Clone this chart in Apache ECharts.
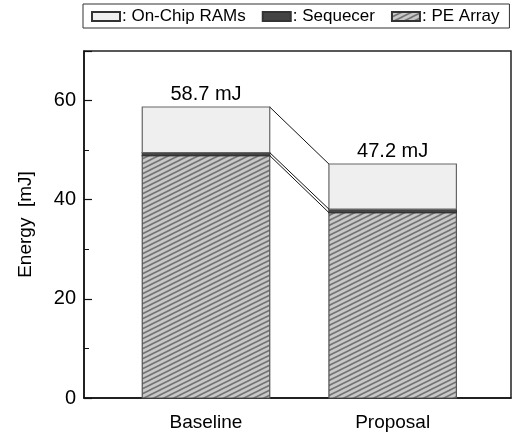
<!DOCTYPE html>
<html>
<head>
<meta charset="utf-8">
<script src="https://cdn.jsdelivr.net/npm/echarts@6/dist/echarts.min.js"></script>
<style>
    html, body { margin: 0; padding: 0; background: #fff; }
    #chart { width: 514px; height: 434px; }
</style>
</head>
<body>
<div id="chart"></div>
<script>
const categories = ['Baseline', 'Proposal'];
const xPos = [2, 5.06];
const peArray = [48.9, 37.4];
const sequencer = [0.6, 0.7];
const totals = [58.7, 47.2];
const seriesNames = ['On-Chip RAMs', 'Sequecer', 'PE Array'];

const HALF = 1.045;
const FONT = '"Liberation Sans", Arial, Helvetica, sans-serif';

// hatch for PE Array
const makeHatch = () => {
    const c = document.createElement('canvas');
    c.width = 10;
    c.height = 5;
    const ctx = c.getContext('2d');
    ctx.fillStyle = '#c8c8c8';
    ctx.fillRect(0, 0, 10, 5);
    ctx.strokeStyle = '#737373';
    ctx.lineWidth = 1.6;
    for (let k = -1; k <= 1; k++) {
        ctx.beginPath();
        ctx.moveTo(-2, 6 + k * 5);
        ctx.lineTo(12, -1 + k * 5);
        ctx.stroke();
    }
    return c;
};
const hatch = { image: makeHatch(), repeat: 'repeat' };

const peTop = peArray.map((v) => v);
const seqTop = peArray.map((v, i) => v + sequencer[i]);

const segment = (name, bases, tops, fill, stroke, withLabel) => ({
    type: 'custom',
    name: name,
    silent: true,
    itemStyle: { color: fill, borderColor: '#333', borderWidth: 1 },
    data: categories.map((c, i) => [xPos[i], bases[i], tops[i]]),
    renderItem: (params, api) => {
        const x = api.value(0);
        const p0 = api.coord([x - HALF, api.value(1)]);
        const p1 = api.coord([x + HALF, api.value(2)]);
        const children = [{
            type: 'rect',
            shape: { x: p0[0], y: p1[1], width: p1[0] - p0[0], height: p0[1] - p1[1] },
            style: { fill: fill, stroke: stroke, lineWidth: 1.2 }
        }];
        if (withLabel) {
            children.push({
                type: 'text',
                x: (p0[0] + p1[0]) / 2,
                y: p1[1] - 3,
                style: {
                    text: totals[params.dataIndex].toFixed(1) + ' mJ',
                    font: '20px ' + FONT,
                    fill: '#000',
                    align: 'center',
                    verticalAlign: 'bottom'
                }
            });
        }
        return { type: 'group', children: children };
    }
});

const connector = (from, to) => ({
    type: 'line',
    silent: true,
    symbol: 'none',
    lineStyle: { color: '#111', width: 1 },
    data: [[xPos[0] + HALF, from], [xPos[1] - HALF, to]],
    z: 3
});

const chart = echarts.init(document.getElementById('chart'));
chart.setOption({
    animation: false,
    textStyle: { fontFamily: FONT },
    legend: {
        left: 83,
        top: 4,
        data: seriesNames,
        orient: 'horizontal',
        padding: [4, 10, 3, 8],
        itemGap: 16,
        itemWidth: 28,
        itemHeight: 9,
        borderColor: '#333',
        borderWidth: 1,
        borderRadius: 0,
        icon: 'rect',
        selectedMode: false,
        formatter: ': {name}',
        textStyle: { fontSize: 17, color: '#000', fontFamily: FONT, padding: [0, 0, 0, -3] }
    },
    grid: {
        left: 84,
        right: 3,
        top: 51,
        bottom: 36,
        show: true,
        borderColor: '#222',
        borderWidth: 1.5,
        backgroundColor: 'transparent'
    },
    xAxis: {
        type: 'value',
        min: 0,
        max: 7,
        splitLine: { show: false },
        axisTick: { show: false },
        axisLine: { show: true, lineStyle: { color: '#111', width: 1.5 } },
        axisLabel: {
            customValues: xPos,
            formatter: (v) => {
                const i = xPos.indexOf(v);
                return i >= 0 ? categories[i] : '';
            },
            fontSize: 19,
            color: '#000',
            margin: 15
        }
    },
    yAxis: {
        type: 'value',
        min: 0,
        max: 70,
        interval: 20,
        name: 'Energy  [mJ]',
        nameLocation: 'middle',
        nameGap: 49,
        nameTextStyle: { fontSize: 19, color: '#000' },
        splitLine: { show: false },
        axisLine: { show: true, lineStyle: { color: '#111', width: 1.5 } },
        axisTick: { show: true, inside: true, length: 8, lineStyle: { color: '#111', width: 1.2 } },
        minorTick: { show: true, splitNumber: 2, length: 5, lineStyle: { color: '#111', width: 1 } },
        axisLabel: { showMaxLabel: false, fontSize: 20, color: '#000', margin: 8 }
    },
    series: [
        segment(seriesNames[2], [0, 0], peTop, hatch, '#555', false),
        segment(seriesNames[1], peTop, seqTop, '#444', '#333', false),
        segment(seriesNames[0], seqTop, totals, '#efefef', '#666', true),
        connector(totals[0], totals[1]),
        connector(seqTop[0], seqTop[1]),
        connector(peTop[0], peTop[1])
    ]
});
</script>
</body>
</html>
